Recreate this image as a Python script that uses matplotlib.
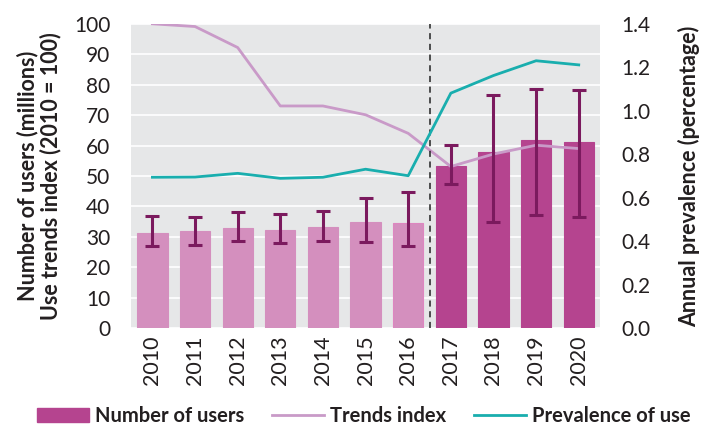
import matplotlib
matplotlib.use("Agg")
import matplotlib.pyplot as plt
import numpy as np
from matplotlib.patches import Patch
from matplotlib.lines import Line2D

plt.rcParams['font.family'] = ['Lato', 'DejaVu Sans']

years = ['2010', '2011', '2012', '2013', '2014', '2015', '2016', '2017', '2018', '2019', '2020']
users = [31.4, 32.0, 32.9, 32.2, 33.2, 35.0, 34.4, 53.4, 57.9, 61.7, 61.3]
users_low = [27.0, 27.4, 28.5, 28.0, 28.5, 28.3, 26.9, 47.3, 34.9, 37.1, 36.4]
users_high = [36.8, 36.4, 38.2, 37.6, 38.5, 42.7, 44.6, 60.1, 76.5, 78.5, 78.2]
trends_index = [100, 99.1, 92.2, 73.0, 73.0, 70.1, 64.0, 53.1, 57.2, 60.1, 59.0]
prevalence = [0.694, 0.695, 0.712, 0.689, 0.694, 0.731, 0.701, 1.081, 1.162, 1.230, 1.211]

light = '#d48fbe'
dark = '#b5448f'
err_c = '#7b1a5e'
trend_c = '#c99ac8'
prev_c = '#19aeae'
txt = '#231f20'

fig = plt.figure(figsize=(7.01, 4.25), dpi=100)
ax = fig.add_axes([0.187, 0.228, 0.669, 0.716])
ax.set_facecolor('#e6e7e8')

x = np.arange(len(years))
colors = [light] * 7 + [dark] * 4
edges = [light] * 6 + ['#de86c0'] + [dark] * 4
u = np.array(users)
yerr = np.array([u - np.array(users_low), np.array(users_high) - u])
ax.bar(x, users, width=0.71, color=colors, edgecolor=edges, linewidth=0.8, zorder=2)
ax.errorbar(x, users, yerr=yerr, fmt='none', ecolor=err_c, elinewidth=2.2,
            capsize=5, capthick=2.2, zorder=4)
ax.plot(x, trends_index, color=trend_c, lw=2, zorder=3)
ax.axvline(6.5, color='#222222', lw=1.1, ls=(0, (4, 3)), zorder=5)

ax.set_xlim(-0.5, 10.5)
ax.set_ylim(0, 100)
ax.set_yticks(range(0, 101, 10))
ax.set_xticks(x)
ax.set_xticklabels(years, rotation=90)
ax.grid(axis='y', color='white', lw=1.2, zorder=1)
ax.set_axisbelow(True)
for s in ax.spines.values():
    s.set_visible(False)
ax.tick_params(axis='y', length=0, labelsize=15, colors=txt, pad=15)
ax.tick_params(axis='x', length=0, labelsize=15.5, colors=txt, pad=5)
ax.set_ylabel('Number of users (millions)\nUse trends index (2010 = 100)',
              fontsize=15.5, fontweight='bold', color=txt, labelpad=9,
              linespacing=1.1)

ax2 = ax.twinx()
ax2.plot(x, prevalence, color=prev_c, lw=2, zorder=3)
ax2.set_ylim(0, 1.4)
ticks2 = np.arange(0, 1.41, 0.2)
ax2.set_yticks(ticks2)
ax2.set_yticklabels([f'{v:.1f}' for v in ticks2])
for s in ax2.spines.values():
    s.set_visible(False)
ax2.tick_params(length=0, labelsize=15, colors=txt, pad=15)
ax2.set_ylabel('Annual prevalence (percentage)', fontsize=15.5,
               fontweight='bold', color=txt, labelpad=20)

handles = [Patch(color=dark), Line2D([], [], color=trend_c, lw=2),
           Line2D([], [], color=prev_c, lw=2)]
labels = ['Number of users', 'Trends index', 'Prevalence of use']
fig.legend(handles, labels, loc='center', bbox_to_anchor=(0.519, 0.022),
           ncol=3, frameon=False, prop={'weight': 'bold', 'size': 14.5},
           handlelength=2.6, handletextpad=0.3, columnspacing=1.35,
           labelcolor=txt)

fig.savefig('out.png', dpi=100)
